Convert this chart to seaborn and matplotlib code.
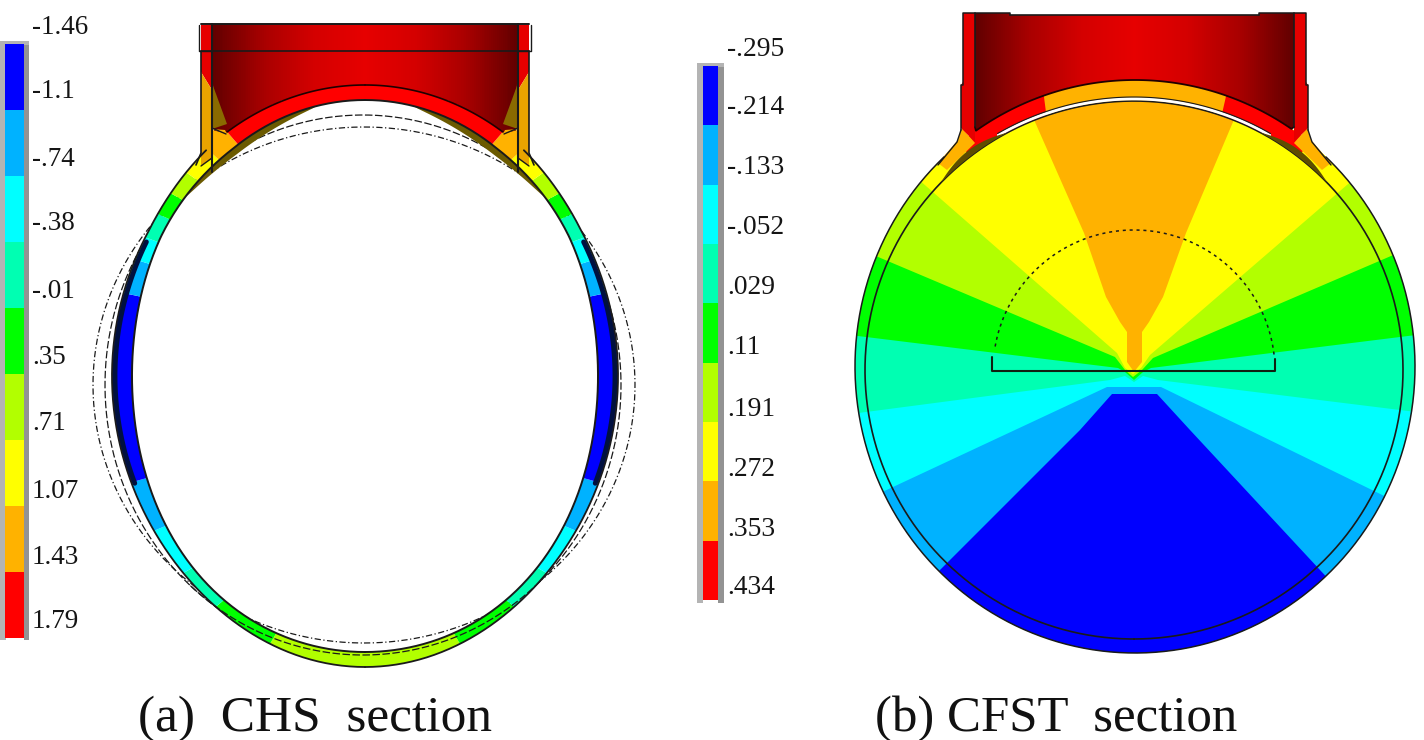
import numpy as np
import matplotlib
matplotlib.use("Agg")
import matplotlib.pyplot as plt
from matplotlib.colors import ListedColormap, BoundaryNorm, LinearSegmentedColormap
from matplotlib.patches import Polygon
import seaborn as sns

sns.set_theme(style="white")
plt.rcParams["font.family"] = ["Liberation Serif", "DejaVu Serif"]

BAND_COLORS = ["#0000ff", "#00b2ff", "#00ffff", "#00ffb2", "#00ff00",
               "#b2ff00", "#ffff00", "#ffb200", "#ff0000"]
LEVELS_A = [-1.46, -1.1, -0.74, -0.38, -0.01, 0.35, 0.71, 1.07, 1.43, 1.79]
LABELS_A = ["-1.46", "-1.1", "-.74", "-.38", "-.01", ".35", ".71", "1.07", "1.43", "1.79"]
LEVELS_B = [-0.295, -0.214, -0.133, -0.052, 0.029, 0.11, 0.191, 0.272, 0.353, 0.434]
LABELS_B = ["-.295", "-.214", "-.133", "-.052", ".029", ".11", ".191", ".272", ".353", ".434"]
LABEL_Y_A = [25, 90, 157, 222, 289, 355, 422, 489, 556, 620]
LABEL_Y_B = [47, 106, 165, 225, 286, 346, 407, 467, 527, 586]
CAPTIONS = ["(a)  CHS  section", "(b) CFST  section"]
# stress band limits along the CHS wall, read as the picture row of each colour change
CHS_TOP_ROWS = [155, 177, 197, 217, 240, 262, 295]
CHS_BOTTOM_ROWS = [480, 528, 570, 603, 638]

W, H = 1424, 740
fig = plt.figure(figsize=(W / 100, H / 100), dpi=100, facecolor="white")
ax = fig.add_axes([0, 0, 1, 1])
ax.set_xlim(0, W)
ax.set_ylim(H, 0)
ax.axis("off")


def strip(x0, x1, y0, y1, levels):
    a = fig.add_axes([x0 / W, 1 - y1 / H, (x1 - x0) / W, (y1 - y0) / H], zorder=5)
    lv = np.array(levels)
    mids = ((lv[:-1] + lv[1:]) / 2).reshape(-1, 1)
    sns.heatmap(mids, ax=a, cmap=ListedColormap(BAND_COLORS), norm=BoundaryNorm(lv, 9),
                cbar=False, xticklabels=False, yticklabels=False)


# legend strips
ax.fill([0, 6, 6, 0], [41, 41, 640, 640], color="#b4b4b4", lw=0)
ax.fill([24, 29, 29, 24], [41, 41, 640, 640], color="#939393", lw=0)
ax.fill([0, 29, 29, 0], [41, 41, 45, 45], color="#b4b4b4", lw=0)
strip(5, 24, 44, 638, LEVELS_A)
ax.fill([697, 703, 703, 697], [63, 63, 603, 603], color="#b4b4b4", lw=0)
ax.fill([718, 724, 724, 718], [63, 63, 603, 603], color="#939393", lw=0)
ax.fill([697, 724, 724, 697], [63, 63, 67, 67], color="#b4b4b4", lw=0)
strip(703, 718, 66, 600, LEVELS_B)
for s, y in zip(LABELS_A, LABEL_Y_A):
    ax.text(32, y + 2, s, fontsize=19.5, va="center", ha="left", color="#151515")
for s, y in zip(LABELS_B, LABEL_Y_B):
    ax.text(727, y + 2, s, fontsize=19.8, va="center", ha="left", color="#151515")
ax.text(138, 719, CAPTIONS[0], fontsize=37, va="center", ha="left", color="#111111")
ax.text(875, 719, CAPTIONS[1], fontsize=36.6, va="center", ha="left", color="#111111")


def ell(cx, cy, a, b, t):
    t = np.radians(t)
    return cx + a * np.sin(t), cy + b * np.cos(t)


def body_gradient(xs0, xs1, clip_xy):
    grid = np.abs(np.linspace(-1, 1, 160))[None, :]
    cm = LinearSegmentedColormap.from_list("r", ["#e60000", "#d40000", "#a80000", "#620000"])
    m = ax.pcolormesh(np.linspace(xs0, xs1, 161), [0, H], grid, cmap=cm, vmin=0, vmax=1,
                      shading="flat", zorder=1)
    p = Polygon(clip_xy, closed=True, transform=ax.transData)
    m.set_clip_path(p)


# ---------- (a) CHS section ----------
CX, CY = 365, 376
AO, BO, AI, BI = 253, 291, 233, 276

# deformed / undeformed outlines, under the wall
tt = np.linspace(0, 360, 400)
x, y = ell(364, 385, 271, 258, tt)
ax.plot(x, y, color="k", lw=0.9, ls=(0, (5, 2, 1, 2)), zorder=1)
x, y = ell(363, 385, 258, 270, tt)
ax.plot(x, y, color="k", lw=0.9, ls=(0, (6, 2)), zorder=1)
x, y = ell(363, 385, 258, 270, np.linspace(-42, 42, 80))
ax.plot(x, y, color="k", lw=0.9, ls=(0, (6, 2)), zorder=5)


def t_of_row(r):
    return np.degrees(np.arccos((r - CY) / 283))


def thin(t):
    """Wall thins on the diagonals of the section and stays full under the collar."""
    t = np.abs(np.asarray(t, float))
    ramp = np.clip((145 - t) / 25, 0, 1)
    return 3.5 * np.sin(np.radians(2 * t)) ** 2 * ramp


def outer(t, side=1, off=0.0):
    d = thin(t)
    return ell(CX, CY, side * (AO - d - off), BO - d - off, t)


def inner(t, side=1, off=0.0):
    d = thin(t)
    return ell(CX, CY, side * (AI + d - off), BI + d - off, t)


def wall(t0, t1, color, side):
    t = np.linspace(t0, t1, 40)
    xo, yo = outer(t, side)
    xi, yi = inner(t, side)
    ax.fill(np.r_[xo, xi[::-1]], np.r_[yo, yi[::-1]], color=color, lw=0, zorder=3)


bottom = [0] + [t_of_row(r) for r in CHS_BOTTOM_ROWS[::-1]]
bottom_cols = ["#b2ff00", "#00ff00", "#00ffb2", "#00ffff", "#00b2ff"]
top = [t_of_row(r) for r in CHS_TOP_ROWS[::-1]]
top_cols = ["#0000ff", "#00b2ff", "#00ffff", "#00ffb2", "#00ff00", "#b2ff00", "#ffff00"]
for side in (-1, 1):
    for i, c in enumerate(bottom_cols):
        wall(bottom[i], bottom[i + 1], c, side)
    wall(bottom[-1], top[0], "#0000ff", side)
    for i in range(len(top) - 1):
        wall(top[i], top[i + 1], top_cols[i + 1], side)
    wall(top[-1], 147, "#ffb200", side)
    wall(147, 180, "#ff0000", side)

# dark band on the outer face of the sides
t = np.linspace(68, 118, 60)
for side in (-1, 1):
    x, y = outer(t, side, off=3)
    ax.plot(x, y, color="#001040", lw=3.5, zorder=4)
    # crescent under the collar
    t2 = np.linspace(130, 168, 40)
    xi, yi = inner(t2, side)
    th = 7 * np.sin(np.pi * (t2 - 130) / 38) ** 0.7
    xn, yn = inner(t2, side, off=th)
    ax.fill(np.r_[xi, xn[::-1]], np.r_[yi, yn[::-1]], color="#6b5a00", lw=0, zorder=3)

    # wall outlines
    t3 = np.linspace(0, 141, 160)
    x, y = outer(t3, side)
    ax.plot(x, y, color="k", lw=1.3, zorder=4)
    t4 = np.linspace(0, 180, 200)
    x, y = inner(t4, side)
    ax.plot(x, y, color="k", lw=1.4, zorder=4)
    t5 = np.linspace(147, 180, 40)
    x, y = outer(t5, side)
    ax.plot(x, y, color="#200000", lw=1.2, zorder=4)

# collar
xa, ya = ell(CX, CY, AO, BO, np.linspace(225, 135, 120))
keep = (xa >= 212) & (xa <= 518)
body = np.c_[np.r_[212, xa[keep], 518], np.r_[24, ya[keep], 24]]
body_gradient(212, 518, body)


def mir(xs):
    return 730 - np.asarray(xs, float)


for f in (lambda v: np.asarray(v, float), mir):
    ax.fill(f([212, 227, 212]), [83, 124, 129], color="#8a6a00", lw=0, zorder=2)
    ax.fill(f([212, 229, 212]), [130, 134, 150], color="#ffb200", lw=0, zorder=3)
    ax.fill(f([212, 225, 227]), [129, 130, 134], color="#ffb200", lw=0, zorder=3)
    ax.fill(f([201, 212, 212, 201]), [25, 25, 90, 72], color="#e60000", lw=0, zorder=3)
    ax.fill(f([201, 212, 212, 201]), [72, 90, 158, 166], color="#e8a400", lw=0, zorder=3)
    ax.plot(f([199, 199, 212]), [25, 51, 51], color="k", lw=1, zorder=4)
    ax.plot(f([201, 201, 196]), [51, 153, 165], color="k", lw=1.2, zorder=4)
    ax.plot(f([212, 212]), [24, 172], color="k", lw=1.5, zorder=4)
    ax.plot(f([201, 212]), [166, 158], color="k", lw=1, zorder=4)
    ax.plot(f([212, 226]), [128, 134], color="k", lw=1, zorder=4)
ax.plot([201, 529], [24, 24], color="k", lw=1.4, zorder=4)
ax.plot([201, 529], [51, 51], color="k", lw=1.2, zorder=4)

# ---------- (b) CFST section ----------
OC = (1135, 366.5)
OA, OB = 280, 286.5
IC = (1134, 370)
IR = 269
tt = np.linspace(0, 360, 500)
ox, oy = ell(OC[0], OC[1], OA, OB, tt)
disc = np.c_[ox, oy]


def layer(pts, color, z=2):
    p = ax.fill(*np.array(pts).T, color=color, lw=0, zorder=z)[0]
    p.set_clip_path(Polygon(disc, closed=True, transform=ax.transData))


def far(hub, rim):
    hub, rim = np.array(hub, float), np.array(rim, float)
    return tuple(hub + (rim - hub) * 1.6)


# upper fan
layer([(800, 800), (1480, 800), (1480, 0), (800, 0)], "#00ffb2")
layer([far((1118, 368), (866, 337)), (1118, 368), (1125, 372), (1134, 380), (1143, 372), (1151, 368),
       far((1151, 368), (1400, 337)), (1500, 0), (800, 0)], "#00ff00")
layer([far((1115, 357), (890, 262)), (1115, 357), (1125, 370), (1133, 377), (1142, 370), (1153, 358),
       far((1153, 358), (1377, 262)), (1500, 0), (800, 0)], "#b2ff00")
layer([far((1117, 353), (934, 193)), (1117, 353), (1125, 368), (1133, 374), (1141, 368), (1150, 355),
       far((1150, 355), (1333, 197)), (1500, 0), (800, 0)], "#ffff00")
layer([far((1084, 233), (1035, 122)), (1084, 233), (1106, 297), (1120, 322), (1127, 332), (1127, 362), (1134, 372),
       (1142, 362), (1142, 332), (1149, 322), (1163, 297), (1186, 233), far((1186, 233), (1233, 122))], "#ffb200")
# lower fan
layer([far((1110, 380), (866, 412)), (1110, 380), (1125, 376), (1134, 382), (1143, 376), (1158, 380),
       far((1158, 380), (1400, 410)), (1500, 800), (800, 800)], "#00ffff")
layer([far((1107, 387), (893, 487)), (1107, 387), (1161, 387), far((1161, 387), (1372, 490)),
       (1500, 800), (800, 800)], "#00b2ff")
layer([far((1080, 430), (945, 565)), (1080, 430), (1112, 394), (1157, 394), (1190, 430),
       far((1190, 430), (1320, 570)), (1500, 800), (800, 800)], "#0000ff")


def top_band(t0, t1, color):
    t = np.linspace(t0, t1, 40)
    xo_, yo_ = ell(OC[0], OC[1], OA, OB, t)
    xi_, yi_ = ell(IC[0], IC[1], IR, IR, t)
    ax.fill(np.r_[xo_, xi_[::-1]], np.r_[yo_, yi_[::-1]], color=color, lw=0, zorder=3)


top_band(180 - 19, 180 + 19, "#ffb200")
top_band(180 + 19, 180 + 38, "#ff0000")
top_band(180 - 38, 180 - 19, "#ff0000")
mirb = lambda v: 2269 - np.asarray(v, float)
for f in (lambda v: np.asarray(v, float), mirb):
    ax.fill(f([962, 975, 947, 938, 958]), [128, 143, 170, 163, 140], color="#ffb200", lw=0, zorder=3)

# collar
axx, ayy = ell(OC[0], OC[1], OA, OB, np.linspace(220, 140, 120))
keep = (axx >= 975) & (axx <= 1294)
body = np.c_[np.r_[975, axx[keep], 1294, 1294, 1259, 1259, 1010, 1010, 975],
             np.r_[127, ayy[keep], 127, 13, 13, 15, 15, 13, 13]]
body_gradient(975, 1294, body)
n_arc = int(keep.sum())
ax.plot(body[:n_arc + 2, 0], body[:n_arc + 2, 1], color="#200000", lw=1.3, zorder=4)
for f in (lambda v: np.asarray(v, float), mirb):
    ax.fill(f([963, 975, 975, 961, 961, 963]), [13, 13, 142, 128, 85, 82], color="#e60000", lw=0, zorder=3)
    ax.plot(f([961, 961, 963, 963, 1010, 1010]), [130, 85, 85, 13, 13, 15], color="k", lw=1.1, zorder=4)
    ax.plot(f([975, 975]), [13, 127], color="k", lw=1.2, zorder=4)
    ax.plot(f([961, 957, 938]), [130, 142, 165], color="k", lw=1, zorder=4)
ax.plot([1010, 1259], [15, 15], color="k", lw=1.2, zorder=4)

# outer and inner outlines of the infill
t = np.linspace(-137, 137, 300)
x, y = ell(OC[0], OC[1], OA, OB, t)
ax.plot(x, y, color="k", lw=1.1, zorder=4)
x, y = ell(IC[0], IC[1], IR, IR, np.linspace(0, 360, 400))
ax.plot(x, y, color="k", lw=1.2, zorder=5)

# gap and crescents at the crown
t = np.linspace(180 - 30, 180 + 30, 60)
x, y = ell(IC[0], IC[1], IR + 2.2, IR + 2.2, t)
ax.plot(x, y, color="white", lw=2.2, zorder=5)
x, y = ell(IC[0], IC[1], IR + 4, IR + 4, t)
ax.plot(x, y, color="k", lw=0.8, zorder=5)
for side in (-1, 1):
    t2 = np.linspace(134, 152, 30)
    xi, yi = ell(IC[0], IC[1], side * IR, IR, t2)
    th = 6 * np.sin(np.pi * (t2 - 134) / 18)
    xn, yn = ell(IC[0], IC[1], side * (IR + th), IR + th, t2)
    ax.fill(np.r_[xi, xn[::-1]], np.r_[yi, yn[::-1]], color="#5e4d00", lw=0, zorder=5)

# plate and stud trace
ax.plot([992, 992, 1275, 1275], [357, 371, 371, 359], color="#102010", lw=1.5, zorder=5)
ang = np.radians(np.linspace(-80, 84, 160))
ax.plot(1134 + 141 * np.sin(ang), 371 - 141 * np.cos(ang), color="k", lw=1.1, ls=(0, (2, 2.5)), zorder=5)

ax.set_xlim(0, W)
ax.set_ylim(H, 0)
fig.savefig("out.png", dpi=100, facecolor="white")
